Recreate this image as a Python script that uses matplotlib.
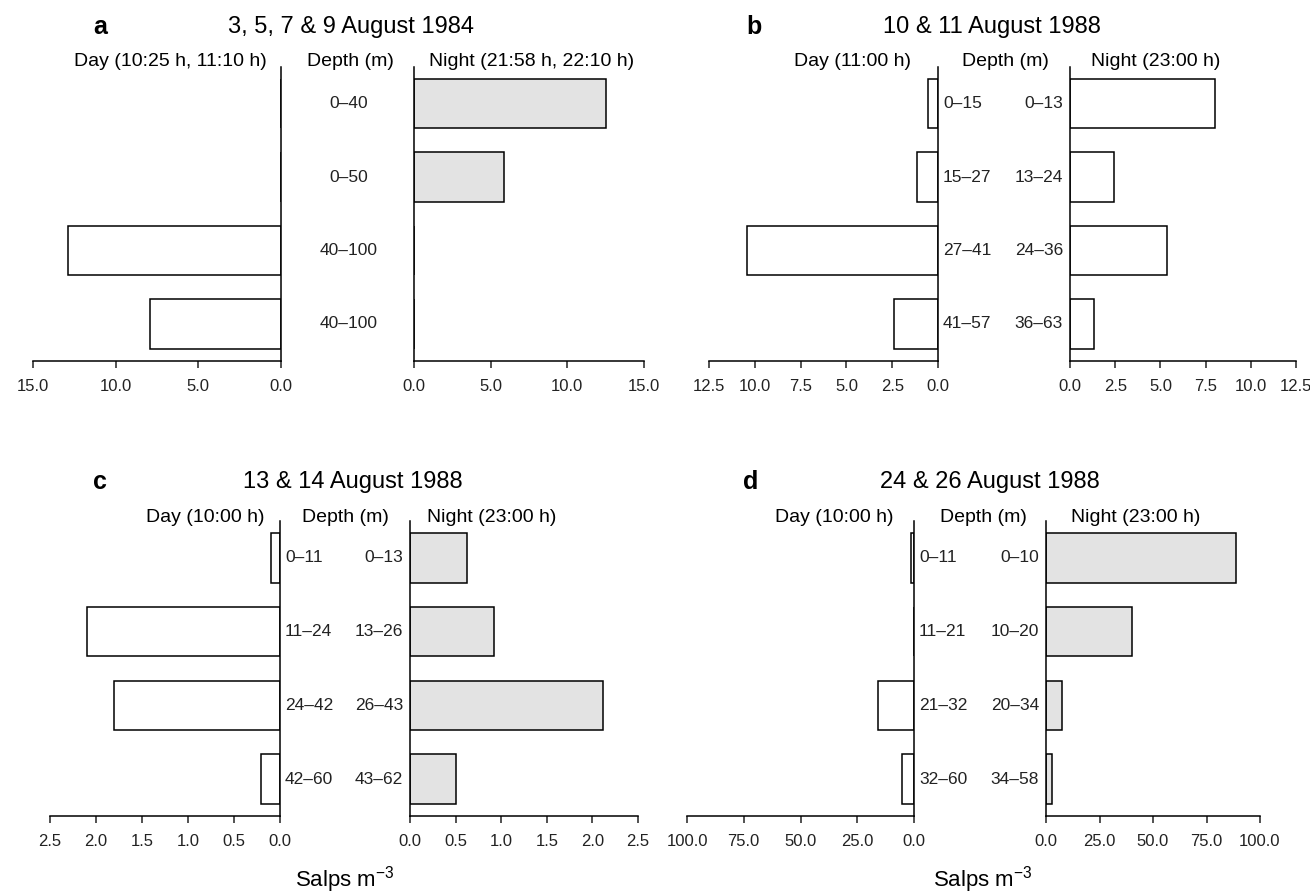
import matplotlib
matplotlib.use("Agg")
import matplotlib.pyplot as plt
from matplotlib.transforms import blended_transform_factory

plt.rcParams['font.family'] = ['Liberation Sans', 'DejaVu Sans']
plt.rcParams['mathtext.fontset'] = 'custom'
plt.rcParams['mathtext.rm'] = 'Liberation Sans'
plt.rcParams['mathtext.default'] = 'regular'

W, H = 1310, 893

# ---- data ----
# panel a
a_title = "3, 5, 7 & 9 August 1984"
a_day_head = "Day (10:25 h, 11:10 h)"
a_night_head = "Night (21:58 h, 22:10 h)"
a_depth = ["0–40", "0–50", "40–100", "40–100"]
a_day = [0, 0, 12.9, 7.95]
a_night = [12.55, 5.85, 0, 0]
a_ticks = [0, 5, 10, 15]

# panel b
b_title = "10 & 11 August 1988"
b_day_head = "Day (11:00 h)"
b_night_head = "Night (23:00 h)"
b_depth_day = ["0–15", "15–27", "27–41", "41–57"]
b_depth_night = ["0–13", "13–24", "24–36", "36–63"]
b_day = [0.57, 1.13, 10.4, 2.4]
b_night = [8.03, 2.44, 5.35, 1.35]
b_ticks = [0, 2.5, 5, 7.5, 10, 12.5]

# panel c
c_title = "13 & 14 August 1988"
c_day_head = "Day (10:00 h)"
c_night_head = "Night (23:00 h)"
c_depth_day = ["0–11", "11–24", "24–42", "42–60"]
c_depth_night = ["0–13", "13–26", "26–43", "43–62"]
c_day = [0.10, 2.10, 1.80, 0.21]
c_night = [0.62, 0.92, 2.12, 0.50]
c_ticks = [0, 0.5, 1.0, 1.5, 2.0, 2.5]

# panel d
d_title = "24 & 26 August 1988"
d_day_head = "Day (10:00 h)"
d_night_head = "Night (23:00 h)"
d_depth_day = ["0–11", "11–21", "21–32", "32–60"]
d_depth_night = ["0–10", "10–20", "20–34", "34–58"]
d_day = [1.5, 0, 16, 5.5]
d_night = [89, 40, 7.5, 3]
d_ticks = [0, 25, 50, 75, 100]

xlabel = "Salps m$^{-3}$"

fig = plt.figure(figsize=(W / 100, H / 100), dpi=100)


def px_axes(x0, x1, ytop, ybot):
    return fig.add_axes([x0 / W, 1 - ybot / H, (x1 - x0) / W, (ybot - ytop) / H])


def style(ax, ticks, day):
    ax.set_ylim(3.5, -0.5)
    ax.set_yticks([])
    ax.spines['top'].set_visible(False)
    if day:
        ax.set_xlim(ticks[-1], 0)
        ax.spines['left'].set_visible(False)
    else:
        ax.set_xlim(0, ticks[-1])
        ax.spines['right'].set_visible(False)
    for s in ax.spines.values():
        s.set_linewidth(1.1)
    ax.set_xticks(ticks)
    ax.set_xticklabels(["%.1f" % t for t in ticks])
    ax.tick_params(axis='x', direction='out', length=5, width=1.1,
                   pad=8, labelsize=12, colors='#222222')


def panel(g, letter, title, day_head, night_head, day, night, ticks,
          night_fill, depth_day=None, depth_night=None, depth_mid=None):
    rows = range(len(day))
    axd = px_axes(g['dx0'], g['dx1'], g['top'], g['bot'])
    axn = px_axes(g['nx0'], g['nx1'], g['top'], g['bot'])
    axd.barh(rows, day, height=0.67, color='white', edgecolor='black', linewidth=1.1)
    axn.barh(rows, night, height=0.67, color=night_fill, edgecolor='black', linewidth=1.1)
    style(axd, ticks, True)
    style(axn, ticks, False)

    tr = blended_transform_factory(fig.transFigure, axd.transData)
    if depth_mid is not None:
        for i, lab in enumerate(depth_mid):
            axd.text(g['mid'] / W, i, lab, transform=tr, ha='center', va='center',
                     fontsize=12.5, color='#222222')
    else:
        for i, lab in enumerate(depth_day):
            axd.text((g['dx1'] + 5) / W, i, lab, transform=tr, ha='left', va='center',
                     fontsize=12.5, color='#222222')
        for i, lab in enumerate(depth_night):
            axd.text((g['nx0'] - 7) / W, i, lab, transform=tr, ha='right', va='center',
                     fontsize=12.5, color='#222222')

    fig.text(g['letter'] / W, 1 - g['ty'] / H, letter, ha='center', va='center',
             fontsize=18, fontweight='bold')
    fig.text(g['title'] / W, 1 - g['ty'] / H, title, ha='center', va='center', fontsize=17)
    fig.text(g['hday'] / W, 1 - g['hy'] / H, day_head, ha='center', va='center', fontsize=14)
    fig.text(g['hdep'] / W, 1 - g['hy'] / H, "Depth (m)", ha='center', va='center', fontsize=14)
    fig.text(g['hnight'] / W, 1 - g['hy'] / H, night_head, ha='center', va='center', fontsize=14)
    if g.get('xl'):
        fig.text(g['hdep'] / W, 1 - 880 / H, xlabel, ha='center', va='center', fontsize=16)


grey = '#e3e3e3'

ga = dict(dx0=33, dx1=281, nx0=414, nx1=644, top=66.75, bot=360.75, mid=349,
          letter=100, title=351, ty=27, hday=170, hdep=350, hnight=532, hy=61)
gb = dict(dx0=709, dx1=938, nx0=1070, nx1=1296, top=66.75, bot=360.75,
          letter=754, title=992, ty=27, hday=853, hdep=1005, hnight=1156, hy=62)
gc = dict(dx0=50, dx1=280, nx0=410, nx1=638, top=521, bot=816,
          letter=100, title=353, ty=482, hday=205, hdep=345, hnight=492, hy=517, xl=True)
gd = dict(dx0=687, dx1=914, nx0=1046, nx1=1260, top=521, bot=816,
          letter=751, title=990, ty=482, hday=834, hdep=983, hnight=1136, hy=517, xl=True)

panel(ga, "a", a_title, a_day_head, a_night_head, a_day, a_night, a_ticks, grey,
      depth_mid=a_depth)
panel(gb, "b", b_title, b_day_head, b_night_head, b_day, b_night, b_ticks, 'white',
      depth_day=b_depth_day, depth_night=b_depth_night)
panel(gc, "c", c_title, c_day_head, c_night_head, c_day, c_night, c_ticks, grey,
      depth_day=c_depth_day, depth_night=c_depth_night)
panel(gd, "d", d_title, d_day_head, d_night_head, d_day, d_night, d_ticks, grey,
      depth_day=d_depth_day, depth_night=d_depth_night)

fig.savefig("out.png", dpi=100)
